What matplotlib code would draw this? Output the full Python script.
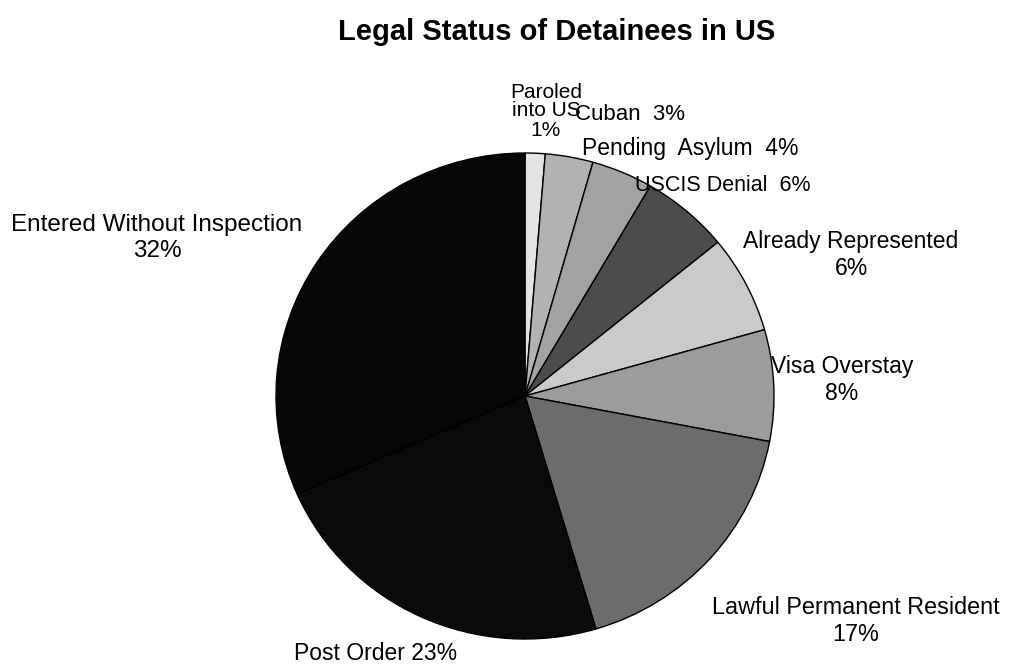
import matplotlib
matplotlib.use("Agg")
import matplotlib.pyplot as plt

plt.rcParams['font.family'] = ['Liberation Sans', 'DejaVu Sans']

# shares (clockwise from 12 o'clock)
categories = ["Paroled into US", "Cuban", "Pending Asylum", "USCIS Denial",
              "Already Represented", "Visa Overstay", "Lawful Permanent Resident",
              "Post Order", "Entered Without Inspection"]
shares = [1.3, 3.1, 4.0, 5.7, 6.5, 7.4, 17.4, 23.0, 31.6]
label_texts = ["Paroled\ninto US\n1%", "Cuban  3%", "Pending  Asylum  4%",
               "USCIS Denial  6%", "Already Represented\n6%", "Visa Overstay\n8%",
               "Lawful Permanent Resident\n17%", "Post Order 23%",
               "Entered Without Inspection\n32%"]
colors = ["#e4e4e4", "#b2b2b2", "#a2a2a2", "#4c4c4c", "#cacaca",
          "#9c9c9c", "#6c6c6c", "#0a0a0a", "#070707"]

# label centres in pixels (x from left, y from top)
label_px = [(546, 111), (630, 114), (690, 149), (723, 186), (851, 255),
            (842, 380), (856, 621), (376, 654), (157, 238)]
label_size = [15, 16, 16.5, 15.5, 16.5, 16.5, 16.8, 16.5, 17.5]

W, H = 1016, 665
fig = plt.figure(figsize=(W / 100, H / 100), dpi=100)

cx, cy, rx, ry = 525, 396, 249, 243
ax = fig.add_axes([(cx - rx) / W, (H - cy - ry) / H, 2 * rx / W, 2 * ry / H])
ax.pie(shares, colors=colors, startangle=90, counterclock=False, radius=1,
       wedgeprops=dict(edgecolor="black", linewidth=1.0))
ax.set_aspect('auto')
ax.set_xlim(-1, 1)
ax.set_ylim(-1, 1)
ax.axis('off')

for txt, (x, y), fs in zip(label_texts, label_px, label_size):
    ls = 1.0 if txt.startswith("Paroled") else 1.2
    fig.text(x / W, 1 - y / H, txt, ha='center', va='center', fontsize=fs,
             linespacing=ls, color='black')

fig.text(557 / W, 1 - 32 / H, "Legal Status of Detainees in US", ha='center',
         va='center', fontsize=21, fontweight='bold')

fig.savefig("out.png", dpi=100, facecolor='white')
